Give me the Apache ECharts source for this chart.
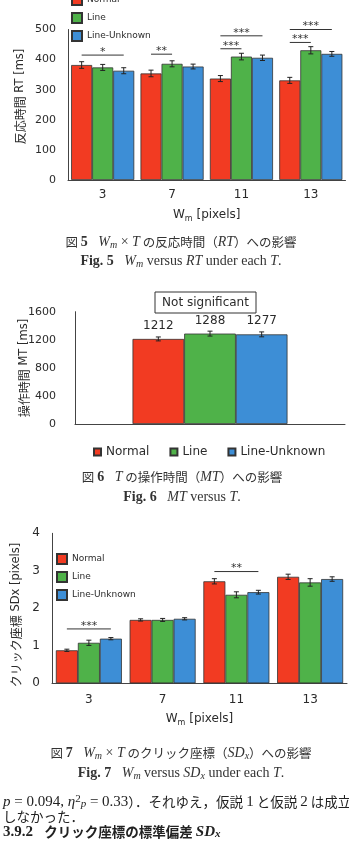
<!DOCTYPE html>
<html>
<head>
<meta charset="utf-8">
<script src="https://cdn.jsdelivr.net/npm/echarts@6/dist/echarts.min.js"></script>
<style>
  html, body { margin: 0; padding: 0; background: #fff; }
  #chart { width: 349px; height: 857px; }
</style>
</head>
<body>
<div id="chart"></div>
<script>
// 共通
const seriesNames = ['Normal', 'Line', 'Line-Unknown'];
const barColors = ['#f23b22', '#4fb249', '#3d8ed6'];

// 図5 反応時間 RT
const wmCats = ['3', '7', '11', '13'];
const rtNormal = [382, 354, 337, 331];
const rtLine = [374, 386, 410, 431];
const rtUnknown = [363, 377, 406, 419];
const rtErrNormal = [11, 11, 10, 10];
const rtErrLine = [10, 10, 11, 12];
const rtErrUnknown = [10, 8, 9, 8];
const rtMin = 0, rtMax = 500, rtStep = 100;
// [カテゴリ, 開始バー, 終了バー, 高さ, 記号]
const rtSig = [
  [0, 0, 2, 415, '*'],
  [1, 0, 1, 418, '**'],
  [2, 0, 1, 436, '***'],
  [2, 0, 2, 479, '***'],
  [3, 0, 1, 457, '***'],
  [3, 0, 2, 500, '***']
];

// 図6 操作時間 MT
const mtCats = [''];
const mtNormal = [1212];
const mtLine = [1288];
const mtUnknown = [1277];
const mtErr = [[28], [35], [35]];
const mtMin = 0, mtMax = 1600, mtStep = 400;

// 図7 クリック座標 SDx
const sdNormal = [0.88, 1.69, 2.72, 2.84];
const sdLine = [1.08, 1.69, 2.36, 2.69];
const sdUnknown = [1.19, 1.72, 2.43, 2.78];
const sdErrNormal = [0.03, 0.03, 0.07, 0.07];
const sdErrLine = [0.07, 0.04, 0.08, 0.1];
const sdErrUnknown = [0.03, 0.03, 0.05, 0.06];
const sdMin = 0, sdMax = 4, sdStep = 1;
const sdSig = [
  [0, 0, 2, 1.45, '***'],
  [2, 0, 2, 2.98, '**']
];

const gaps = [0.09, 0.426, 0.105];
const sansFont = 'DejaVu Sans';
const axisColor = '#444';
const textColor = '#2b2b2b';

function barSeries(gridIdx, values, withLabel) {
  return values.map((data, k) => ({
    type: 'bar',
    name: seriesNames[k],
    xAxisIndex: gridIdx,
    yAxisIndex: gridIdx,
    data: data,
    barGap: '0%',
    barCategoryGap: (gaps[gridIdx] * 100) + '%',
    itemStyle: { color: barColors[k], borderColor: '#333', borderWidth: 0.8 },
    label: withLabel ? {
      show: true, position: 'top', distance: 7,
      fontSize: 12, color: textColor, fontFamily: sansFont
    } : { show: false }
  }));
}

// エラーバー
function errorSeries(gridIdx, values, errs) {
  const data = [];
  values.forEach((arr, k) => arr.forEach((v, i) => data.push([i, k, v, errs[k][i]])));
  const gap = gaps[gridIdx];
  return {
    type: 'custom',
    xAxisIndex: gridIdx,
    yAxisIndex: gridIdx,
    silent: true,
    z: 5,
    data: data,
    encode: { x: 0, y: 2 },
    renderItem(params, api) {
      const band = api.size([1, 0])[0];
      const bw = band * (1 - gap) / 3;
      const c = api.coord([api.value(0), api.value(2)]);
      const x = c[0] + (api.value(1) - 1) * bw;
      const hi = api.coord([api.value(0), api.value(2) + api.value(3)])[1];
      const lo = api.coord([api.value(0), api.value(2) - api.value(3)])[1];
      const style = { stroke: '#222', lineWidth: 1 };
      return {
        type: 'group',
        children: [
          { type: 'line', shape: { x1: x, y1: hi, x2: x, y2: lo }, style },
          { type: 'line', shape: { x1: x - 2.5, y1: hi, x2: x + 2.5, y2: hi }, style },
          { type: 'line', shape: { x1: x - 2.5, y1: lo, x2: x + 2.5, y2: lo }, style }
        ]
      };
    }
  };
}

// 有意差の線と記号
function sigSeries(gridIdx, sig) {
  const gap = gaps[gridIdx];
  return {
    type: 'custom',
    xAxisIndex: gridIdx,
    yAxisIndex: gridIdx,
    silent: true,
    z: 6,
    data: sig,
    encode: { x: 0, y: 3 },
    renderItem(params, api) {
      const band = api.size([1, 0])[0];
      const bw = band * (1 - gap) / 3;
      const c = api.coord([api.value(0), api.value(3)]);
      const x1 = c[0] + (api.value(1) - 1) * bw;
      const x2 = c[0] + (api.value(2) - 1) * bw;
      return {
        type: 'group',
        children: [
          { type: 'line', shape: { x1, y1: c[1], x2, y2: c[1] }, style: { stroke: '#333', lineWidth: 1 } },
          {
            type: 'text', x: (x1 + x2) / 2, y: c[1] - 3,
            style: {
              text: sig[params.dataIndex][4], fill: '#333', fontSize: 11, fontFamily: sansFont,
              align: 'center', verticalAlign: 'middle', textAlign: 'center', textVerticalAlign: 'middle'
            }
          }
        ]
      };
    }
  };
}

function valueAxis(gridIdx, min, max, step, margin, size) {
  return {
    type: 'value', gridIndex: gridIdx, min, max, interval: step,
    axisLine: { show: true, lineStyle: { color: axisColor, width: 1 } },
    axisTick: { show: false },
    splitLine: { show: false },
    axisLabel: {
      fontSize: size, color: textColor, margin, fontFamily: sansFont,
      formatter: (v) => String(v)
    }
  };
}

const subRich = {
  s: { fontSize: 8, lineHeight: 8, verticalAlign: 'bottom', color: textColor, fontFamily: sansFont }
};

function catAxis(gridIdx, cats, showLabel, margin, nameGap) {
  return {
    type: 'category', gridIndex: gridIdx, data: cats,
    axisLine: { show: true, lineStyle: { color: axisColor, width: 1 } },
    axisTick: { show: false },
    axisLabel: { show: showLabel, fontSize: 12, color: textColor, margin, fontFamily: sansFont },
    name: showLabel ? 'W{s|m} [pixels]' : '',
    nameLocation: 'middle',
    nameGap: nameGap,
    nameTextStyle: { fontSize: 12, color: textColor, fontFamily: sansFont, lineHeight: 16, rich: subRich }
  };
}

function legendAt(opts) {
  return Object.assign({
    data: seriesNames,
    icon: 'rect',
    padding: 0,
    textStyle: { fontFamily: sansFont, color: textColor, fontSize: 9 }
  }, opts);
}

// 図のキャプションと本文
function richSet(size, cjkSize, color) {
  const serif = 'Liberation Serif';
  const cjk = 'Noto Sans CJK JP';
  return {
    j: { fontFamily: cjk, fontSize: cjkSize, fill: color, lineHeight: 16 },
    n: { fontFamily: serif, fontSize: size, fill: color, lineHeight: 16 },
    b: { fontFamily: serif, fontSize: size, fontWeight: 'bold', fill: color, lineHeight: 16 },
    i: { fontFamily: serif, fontSize: size, fontStyle: 'italic', fill: color, lineHeight: 16 },
    s: { fontFamily: serif, fontSize: size - 4, fontStyle: 'italic', fill: color, lineHeight: 8, verticalAlign: 'bottom' },
    sup: { fontFamily: serif, fontSize: size - 4, fill: color, lineHeight: 8, verticalAlign: 'top' },
    hb: { fontFamily: serif, fontSize: size, fontWeight: 'bold', fill: color, lineHeight: 16 },
    hj: { fontFamily: cjk, fontSize: cjkSize, fontWeight: 'bold', fill: color, lineHeight: 16 },
    hi: { fontFamily: serif, fontSize: size, fontWeight: 'bold', fontStyle: 'italic', fill: color, lineHeight: 16 },
    hs: { fontFamily: serif, fontSize: size - 4, fontWeight: 'bold', fontStyle: 'italic', fill: color, lineHeight: 8, verticalAlign: 'bottom' }
  };
}

function textEl(x, y, text, rich, align, rotation) {
  return {
    type: 'text', x, y, rotation: rotation || 0,
    style: {
      text, rich,
      align: align, verticalAlign: 'middle',
      textAlign: align, textVerticalAlign: 'middle'
    }
  };
}

const capRich = richSet(14, 12.5, '#333');
const bodyRich = richSet(15, 13.5, '#222');
const yNameRich = {
  j: { fontFamily: 'Noto Sans CJK JP', fontSize: 12, fill: textColor },
  l: { fontFamily: sansFont, fontSize: 11.5, fill: textColor }
};

const option = {
  animation: false,
  textStyle: { fontFamily: sansFont },
  grid: [
    { left: 68, top: 29.5, width: 277.5, height: 150.5, outerBoundsMode: 'none' },
    { left: 75, top: 311.7, width: 270, height: 112.3, outerBoundsMode: 'none' },
    { left: 52, top: 533.3, width: 295, height: 150, outerBoundsMode: 'none' }
  ],
  xAxis: [
    catAxis(0, wmCats, true, 9, 27),
    catAxis(1, mtCats, false, 8, 20),
    catAxis(2, wmCats, true, 11, 28)
  ],
  yAxis: [
    valueAxis(0, rtMin, rtMax, rtStep, 12, 11),
    valueAxis(1, mtMin, mtMax, mtStep, 19, 11),
    valueAxis(2, sdMin, sdMax, sdStep, 12, 12)
  ],
  legend: [
    legendAt({ orient: 'vertical', left: 71, top: -6, itemWidth: 10, itemHeight: 10, itemGap: 6 }),
    legendAt({ orient: 'horizontal', left: 93, top: 446, itemWidth: 7, itemHeight: 7, itemGap: 20,
      textStyle: { fontFamily: sansFont, color: textColor, fontSize: 12 } }),
    legendAt({ orient: 'vertical', left: 56, top: 553, itemWidth: 10, itemHeight: 10, itemGap: 6 })
  ],
  series: [].concat(
    barSeries(0, [rtNormal, rtLine, rtUnknown], false),
    [errorSeries(0, [rtNormal, rtLine, rtUnknown], [rtErrNormal, rtErrLine, rtErrUnknown])],
    [sigSeries(0, rtSig)],
    barSeries(1, [mtNormal, mtLine, mtUnknown], true),
    [errorSeries(1, [mtNormal, mtLine, mtUnknown], mtErr)],
    barSeries(2, [sdNormal, sdLine, sdUnknown], false),
    [errorSeries(2, [sdNormal, sdLine, sdUnknown], [sdErrNormal, sdErrLine, sdErrUnknown])],
    [sigSeries(2, sdSig)]
  ),
  graphic: [
    // y軸タイトル
    textEl(20, 96.5, '{j|反応時間}{l| RT [ms]}', yNameRich, 'center', Math.PI / 2),
    textEl(24, 368, '{j|操作時間}{l| MT [ms]}', yNameRich, 'center', Math.PI / 2),
    textEl(16, 615, '{j|クリック座標}{l| SDx [pixels]}', yNameRich, 'center', Math.PI / 2),
    // Not significant
    {
      type: 'rect', shape: { x: 155, y: 292, width: 101, height: 21 },
      style: { fill: '#fff', stroke: '#333', lineWidth: 1 }
    },
    {
      type: 'text', x: 205.5, y: 302.5,
      style: {
        text: 'Not significant', fill: textColor, fontSize: 12, fontFamily: sansFont,
        align: 'center', verticalAlign: 'middle', textAlign: 'center', textVerticalAlign: 'middle'
      }
    },
    // キャプション
    textEl(181, 242, '{j|図 }{b|5}{n|   }{i|W}{s|m}{n| × }{i|T}{j| の反応時間（}{i|RT}{j|）への影響}', capRich, 'center'),
    textEl(181, 261, '{b|Fig. 5}{n|   }{i|W}{s|m}{n| versus }{i|RT}{n| under each }{i|T}{n|.}', capRich, 'center'),
    textEl(182, 477, '{j|図 }{b|6}{n|   }{i|T}{j| の操作時間（}{i|MT}{j|）への影響}', capRich, 'center'),
    textEl(182, 497, '{b|Fig. 6}{n|   }{i|MT}{n| versus }{i|T}{n|.}', capRich, 'center'),
    textEl(181, 753, '{j|図 }{b|7}{n|   }{i|W}{s|m}{n| × }{i|T}{j| のクリック座標（}{i|SD}{s|x}{j|）への影響}', capRich, 'center'),
    textEl(181, 773, '{b|Fig. 7}{n|   }{i|W}{s|m}{n| versus }{i|SD}{s|x}{n| under each }{i|T}{n|.}', capRich, 'center'),
    // 本文
    textEl(3, 802, '{i|p}{n| = 0.094, }{i|η}{sup|2}{s|p}{n| = 0.33}{j|）．それゆえ，仮説 }{n|1}{j| と仮説 }{n|2}{j| は成立}', bodyRich, 'left'),
    textEl(3, 817, '{j|しなかった．}', bodyRich, 'left'),
    textEl(3, 832, '{hb|3.9.2}{n|   }{hj|クリック座標の標準偏差 }{hi|SD}{hs|x}', bodyRich, 'left')
  ]
};

const chart = echarts.init(document.getElementById('chart'));
chart.setOption(option);
</script>
</body>
</html>
